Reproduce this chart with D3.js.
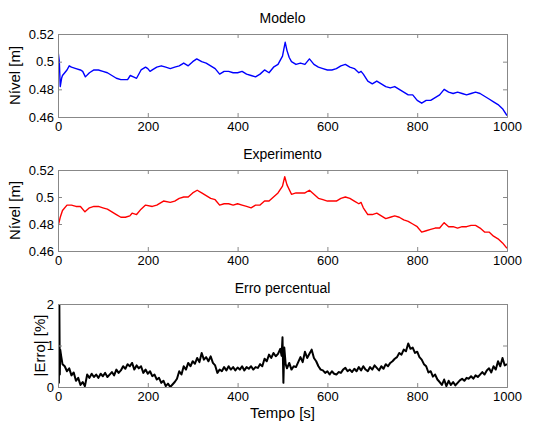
<!DOCTYPE html>
<html lang="pt">
  <head>
    <meta charset="UTF-8" />
    <title>Modelo x Experimento</title>
    <script src="https://d3js.org/d3.v7.min.js"></script>
    <style>
      body {
        margin: 0;
        background: #fff;
        font-family: "Liberation Sans", Arial, sans-serif;
      }
      svg {
        display: block;
      }
    </style>
  </head>
  <body>
    <svg id="chart" width="546" height="423"></svg>

    <script>
      // ---- data ----
      const modeloT = [0, 3, 5, 8, 10, 15, 20, 25, 30, 40, 50, 55, 61, 70, 80, 90, 100, 110, 120, 130, 140, 150, 155, 161, 168, 175, 185, 195, 200, 205, 210, 220, 230, 240, 250, 260, 270, 280, 290, 300, 309, 320, 330, 340, 350, 360, 370, 380, 390, 400, 410, 420, 430, 440, 450, 460, 470, 480, 490, 500, 503, 506, 510, 515, 520, 530, 540, 550, 560, 570, 580, 590, 600, 610, 620, 630, 640, 650, 660, 670, 675, 680, 690, 700, 710, 720, 730, 740, 750, 760, 770, 780, 790, 800, 810, 820, 830, 840, 850, 860, 870, 880, 890, 900, 910, 920, 930, 940, 950, 960, 970, 980, 990, 1000];
      const modeloV = [0.508, 0.5, 0.482, 0.488, 0.49, 0.492, 0.494, 0.497, 0.496, 0.495, 0.494, 0.493, 0.489, 0.492, 0.494, 0.494, 0.493, 0.492, 0.49, 0.488, 0.487, 0.487, 0.487, 0.49, 0.489, 0.488, 0.494, 0.496, 0.495, 0.493, 0.494, 0.496, 0.497, 0.496, 0.495, 0.496, 0.497, 0.499, 0.497, 0.5, 0.502, 0.5, 0.499, 0.497, 0.495, 0.491, 0.493, 0.493, 0.492, 0.492, 0.493, 0.491, 0.49, 0.489, 0.491, 0.494, 0.492, 0.496, 0.498, 0.504, 0.509, 0.514, 0.508, 0.503, 0.5, 0.498, 0.499, 0.498, 0.502, 0.498, 0.496, 0.495, 0.494, 0.494, 0.495, 0.497, 0.498, 0.496, 0.495, 0.492, 0.493, 0.491, 0.486, 0.484, 0.486, 0.484, 0.482, 0.481, 0.482, 0.48, 0.478, 0.476, 0.476, 0.472, 0.47, 0.472, 0.472, 0.474, 0.476, 0.48, 0.478, 0.477, 0.478, 0.477, 0.476, 0.477, 0.478, 0.477, 0.475, 0.473, 0.471, 0.469, 0.466, 0.461];

      const expT = [0, 5, 10, 20, 30, 40, 50, 60, 70, 80, 90, 100, 110, 120, 130, 140, 150, 160, 165, 175, 185, 195, 210, 220, 235, 250, 260, 270, 280, 290, 300, 310, 320, 330, 340, 350, 360, 370, 380, 390, 400, 410, 420, 430, 440, 450, 460, 470, 480, 490, 500, 505, 510, 520, 530, 540, 550, 560, 570, 580, 590, 600, 610, 620, 630, 640, 650, 660, 670, 675, 680, 690, 700, 710, 720, 730, 740, 750, 760, 770, 780, 790, 800, 810, 820, 830, 840, 850, 860, 870, 880, 890, 900, 910, 920, 930, 940, 950, 960, 970, 980, 990, 1000];
      const expV = [0.478, 0.485, 0.49, 0.494, 0.494, 0.493, 0.493, 0.489, 0.492, 0.493, 0.493, 0.492, 0.491, 0.489, 0.487, 0.485, 0.485, 0.486, 0.488, 0.487, 0.491, 0.494, 0.493, 0.494, 0.497, 0.496, 0.497, 0.499, 0.5, 0.5, 0.503, 0.505, 0.503, 0.501, 0.499, 0.498, 0.494, 0.495, 0.495, 0.494, 0.495, 0.494, 0.493, 0.492, 0.494, 0.494, 0.497, 0.497, 0.5, 0.503, 0.508, 0.515, 0.509, 0.502, 0.503, 0.503, 0.503, 0.505, 0.502, 0.499, 0.498, 0.497, 0.497, 0.497, 0.499, 0.5, 0.499, 0.497, 0.495, 0.496, 0.492, 0.487, 0.487, 0.488, 0.486, 0.484, 0.485, 0.486, 0.485, 0.483, 0.482, 0.48, 0.478, 0.474, 0.475, 0.476, 0.477, 0.477, 0.481, 0.478, 0.478, 0.477, 0.478, 0.478, 0.479, 0.479, 0.477, 0.474, 0.474, 0.471, 0.469, 0.466, 0.462];

      const erroT = [0, 1, 2, 3, 4, 5, 7, 10, 15, 20, 25, 30, 35, 40, 45, 50, 55, 60, 65, 70, 75, 80, 85, 90, 95, 100, 105, 110, 115, 120, 125, 130, 135, 140, 145, 150, 155, 160, 165, 170, 175, 180, 185, 190, 195, 200, 205, 210, 215, 220, 225, 230, 235, 240, 245, 250, 255, 260, 265, 270, 275, 280, 285, 290, 295, 300, 305, 310, 315, 320, 325, 330, 335, 340, 345, 350, 355, 360, 365, 370, 375, 380, 385, 390, 395, 400, 405, 410, 415, 420, 425, 430, 435, 440, 445, 450, 455, 460, 465, 470, 475, 480, 485, 490, 495, 498, 500, 502, 504, 507, 510, 515, 520, 525, 530, 535, 540, 545, 550, 555, 560, 565, 570, 575, 580, 585, 590, 595, 600, 605, 610, 615, 620, 625, 630, 635, 640, 645, 650, 655, 660, 665, 670, 675, 680, 685, 690, 695, 700, 705, 710, 715, 720, 725, 730, 735, 740, 745, 750, 755, 760, 765, 770, 775, 780, 785, 790, 795, 800, 805, 810, 815, 820, 825, 830, 835, 840, 845, 850, 855, 860, 865, 870, 875, 880, 885, 890, 895, 900, 905, 910, 915, 920, 925, 930, 935, 940, 945, 950, 955, 960, 965, 970, 975, 980, 985, 990, 995, 1000];
      const erroV = [1.4, 2.0, 0.1, 2.0, 0.3, 0.9, 0.75, 0.55, 0.5, 0.38, 0.45, 0.28, 0.35, 0.15, 0.22, 0.05, 0.12, 0.02, 0.3, 0.22, 0.32, 0.24, 0.3, 0.22, 0.32, 0.26, 0.34, 0.24, 0.3, 0.36, 0.28, 0.42, 0.34, 0.4, 0.5, 0.44, 0.55, 0.5, 0.58, 0.42, 0.52, 0.45, 0.5, 0.34, 0.42, 0.32, 0.38, 0.26, 0.3, 0.18, 0.22, 0.1, 0.15, 0.02, 0.08, 0.0, 0.06, 0.12, 0.2, 0.38, 0.3, 0.5, 0.42, 0.58, 0.5, 0.62, 0.56, 0.7, 0.6, 0.82, 0.66, 0.72, 0.62, 0.74, 0.58, 0.52, 0.34, 0.42, 0.38, 0.48, 0.4, 0.5, 0.42, 0.48, 0.4, 0.47, 0.42, 0.5, 0.4, 0.48, 0.44, 0.5, 0.42, 0.48, 0.46, 0.55, 0.5, 0.68, 0.62, 0.78, 0.7, 0.82, 0.74, 0.8, 0.92, 0.75, 1.2, 0.1, 0.95, 0.55, 0.45, 0.58, 0.42, 0.5, 0.48, 0.6, 0.72, 0.6, 0.85, 0.7, 0.8, 0.9, 0.7, 0.62, 0.5, 0.42, 0.4, 0.34, 0.38, 0.3, 0.38, 0.32, 0.3, 0.36, 0.34, 0.42, 0.46, 0.38, 0.42, 0.36, 0.44, 0.38, 0.48, 0.4, 0.5, 0.42, 0.38, 0.48, 0.42, 0.52, 0.46, 0.4, 0.5, 0.44, 0.55, 0.5, 0.58, 0.62, 0.68, 0.72, 0.82, 0.78, 0.9, 0.86, 1.05, 0.92, 0.95, 0.82, 0.85, 0.72, 0.66, 0.55, 0.5, 0.35, 0.38, 0.25, 0.3, 0.18, 0.12, 0.05, 0.18, 0.02, 0.15, 0.05, 0.12, 0.04, 0.1, 0.16, 0.2, 0.15, 0.22, 0.2, 0.26, 0.2, 0.28, 0.24, 0.3, 0.36, 0.3, 0.4, 0.45, 0.35, 0.5, 0.42, 0.62, 0.5, 0.7, 0.52, 0.55];

      const xTicks = [0, 200, 400, 600, 800, 1000];
      const nivelTicks = [0.46, 0.48, 0.5, 0.52];
      const erroTicks = [0, 1, 2];

      // ---- layout ----
      const svg = d3.select("#chart");
      const left = 58;
      const right = 507;

      const x = d3.scaleLinear().domain([0, 1000]).range([left, right]);

      const panels = [
        { title: "Modelo", top: 34, bottom: 117, t: modeloT, v: modeloV, color: "#0000ff", domain: [0.46, 0.52], ticks: nivelTicks, fmt: d3.format(""), ylabel: "Nível [m]", ylabelX: 15, width: 1.4 },
        { title: "Experimento", top: 170, bottom: 251, t: expT, v: expV, color: "#ff0000", domain: [0.46, 0.52], ticks: nivelTicks, fmt: d3.format(""), ylabel: "Nível [m]", ylabelX: 15, width: 1.4 },
        { title: "Erro percentual", top: 304, bottom: 387, t: erroT, v: erroV, color: "#000000", domain: [0, 2], ticks: erroTicks, fmt: d3.format("d"), ylabel: "|Erro| [%]", ylabelX: 40, width: 2 },
      ];

      panels.forEach((p, i) => {
        const y = d3.scaleLinear().domain(p.domain).range([p.bottom, p.top]);
        const g = svg.append("g");

        // clip so the spikes stay inside the box
        const clipId = "clip" + i;
        svg.append("clipPath").attr("id", clipId)
          .append("rect")
          .attr("x", left).attr("y", p.top)
          .attr("width", right - left).attr("height", p.bottom - p.top);

        const line = d3.line()
          .x((d, k) => x(p.t[k]))
          .y((d) => y(d));

        g.append("path")
          .datum(p.v)
          .attr("clip-path", `url(#${clipId})`)
          .attr("d", line)
          .attr("fill", "none")
          .attr("stroke", p.color)
          .attr("stroke-width", p.width)
          .attr("stroke-linejoin", "round");

        // axes, matlab style (ticks inside, box all round)
        const axisColor = "#888";
        const tickLen = 4;

        const bottomAx = g.append("g")
          .attr("transform", `translate(0,${p.bottom})`)
          .call(d3.axisBottom(x).tickValues(xTicks).tickSize(-tickLen).tickPadding(5).tickFormat(d3.format("d")));
        const topAx = g.append("g")
          .attr("transform", `translate(0,${p.top})`)
          .call(d3.axisTop(x).tickValues(xTicks).tickSize(-tickLen).tickFormat(""));
        const leftAx = g.append("g")
          .attr("transform", `translate(${left},0)`)
          .call(d3.axisLeft(y).tickValues(p.ticks).tickSize(-tickLen).tickPadding(4).tickFormat(p.fmt));
        const rightAx = g.append("g")
          .attr("transform", `translate(${right},0)`)
          .call(d3.axisRight(y).tickValues(p.ticks).tickSize(-tickLen).tickFormat(""));

        [bottomAx, topAx, leftAx, rightAx].forEach((ax) => {
          ax.select(".domain").attr("stroke", axisColor).attr("stroke-width", 1);
          ax.selectAll(".tick line").attr("stroke", axisColor);
          ax.selectAll("text")
            .attr("fill", "#000")
            .style("font-size", "13px")
            .style("font-family", '"Liberation Sans", Arial, sans-serif');
        });

        // title
        svg.append("text")
          .attr("x", (left + right) / 2)
          .attr("y", p.top - 11)
          .attr("text-anchor", "middle")
          .style("font-size", "14px")
          .text(p.title);

        // y label
        svg.append("text")
          .attr("transform", `translate(${p.ylabelX},${(p.top + p.bottom) / 2}) rotate(-90)`)
          .attr("text-anchor", "middle")
          .attr("dy", "0.35em")
          .style("font-size", "15px")
          .text(p.ylabel);
      });

      // x label
      svg.append("text")
        .attr("x", (left + right) / 2)
        .attr("y", 418)
        .attr("text-anchor", "middle")
        .style("font-size", "15px")
        .text("Tempo [s]");
    </script>
  </body>
</html>
